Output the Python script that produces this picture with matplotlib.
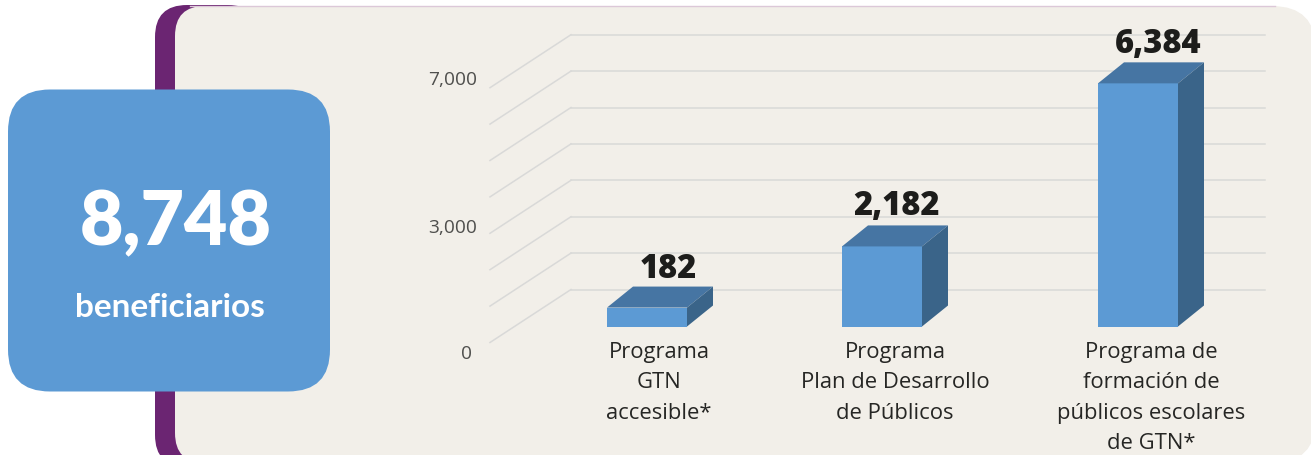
import matplotlib
matplotlib.use('Agg')
import matplotlib.pyplot as plt
from matplotlib.patches import FancyBboxPatch, Polygon
from matplotlib.transforms import Affine2D

categories = ['Programa\nGTN\naccesible*',
              'Programa\nPlan de Desarrollo\nde Públicos',
              'Programa de\nformación de\npúblicos escolares\nde GTN*']
value_labels = ['182', '2,182', '6,384']
# height of each bar as read against the gridlines (the picture is not to scale)
bar_heights = [520, 2200, 6680]
grid_values = [0, 1000, 2000, 3000, 4000, 5000, 6000, 7000]
tick_labels = ['7,000', '3,000', '0']
total_label = '8,748'
total_text = 'beneficiarios'

W, H = 1311, 456
PX_PER_VALUE = 36.4 / 1000
BASE_Y = 327.5
bar_left = [607, 842, 1098]
BAR_W = 80
DEPTH_X, DEPTH_Y = 26, 21

BLUE = '#5C9AD4'
TOP = '#4675A3'
SIDE = '#3A6489'
PURPLE = '#6B2572'
PANEL = '#F2EFE9'
GRID = '#D9D9D8'

fig = plt.figure(figsize=(W / 100, H / 100), dpi=100, facecolor='white')

# background, in pixels
bg = fig.add_axes([0, 0, 1, 1])
bg.set_xlim(0, W)
bg.set_ylim(H, 0)
bg.axis('off')


def box(x0, y0, x1, y1, r, color, z):
    bg.add_patch(FancyBboxPatch((x0 + r, y0 + r), x1 - x0 - 2 * r, y1 - y0 - 2 * r,
                                boxstyle='round,pad=%d,rounding_size=%d' % (r, r),
                                fc=color, ec='none', zorder=z))


box(155, 6, 260, 468, 32, PURPLE, 1)
box(175, 7, 700, 464, 30, PANEL, 2)
box(500, 7, 1316, 464, 44, PANEL, 2)
bg.plot([190, 1275], [6.5, 6.5], color='#DCC8D8', lw=1, zorder=2.5)
box(8, 90.5, 330, 392.5, 42, BLUE, 3)
bg.text(176, 223, total_label, color='white', fontsize=54, fontweight='heavy',
        family='Lato', ha='center', va='center', zorder=4)
bg.text(170, 308, total_text, color='white', fontsize=24, fontweight='bold',
        family='Lato', ha='center', va='center', zorder=4)

# chart, x in pixels and y in values
ax = fig.add_axes([0, 0, 1, 1], zorder=5)
ax.set_xlim(0, W)
ax.set_ylim(-(H - BASE_Y) / PX_PER_VALUE, BASE_Y / PX_PER_VALUE)
ax.axis('off')


def shifted(dx, dy):
    return ax.transData + Affine2D().translate(dx, dy)


for v in grid_values:
    # wall line, then the floor/side line running to the front
    ax.plot([571, 1265], [v, v], color=GRID, lw=1.1, transform=shifted(0, 37), zorder=1)
    ax.plot([490, 571], [v, v + 53 / PX_PER_VALUE], color=GRID, lw=1.1,
            transform=shifted(0, -16), zorder=1)

for x, h in zip(bar_left, bar_heights):
    ax.bar(x, h, width=BAR_W, align='edge', color=BLUE, zorder=3)
    dv = DEPTH_Y / PX_PER_VALUE
    ax.add_patch(Polygon([(x, h), (x + BAR_W, h), (x + BAR_W + DEPTH_X, h + dv), (x + DEPTH_X, h + dv)],
                         fc=TOP, ec='none', zorder=3))
    ax.add_patch(Polygon([(x + BAR_W, 0), (x + BAR_W + DEPTH_X, dv), (x + BAR_W + DEPTH_X, h + dv), (x + BAR_W, h)],
                         fc=SIDE, ec='none', zorder=3))

# labels sit where the picture has them, not on the bars
label_pos = [(668, 269), (896, 206), (1158, 44)]
for (x, y), lab in zip(label_pos, value_labels):
    ax.text(x, y, lab, color='#1D1D1B', fontsize=23.5, fontweight='heavy', family='Open Sans',
            ha='center', va='center', zorder=4, transform=bg.transData)

cat_pos = [(659, 342), (895, 342), (1151, 342)]
for (x, y), cat in zip(cat_pos, categories):
    fig.text(x / W, 1 - y / H, cat, color='#262624', fontsize=15.8, family='Open Sans',
             ha='center', va='top', linespacing=1.58, zorder=10)

for (x, y), t in zip([(453, 80), (453, 228), (466, 354)], tick_labels):
    fig.text(x / W, 1 - y / H, t, color='#4F4F4D', fontsize=13.8, family='Open Sans',
             ha='center', va='center', zorder=10)

fig.savefig('out.png', dpi=100)
